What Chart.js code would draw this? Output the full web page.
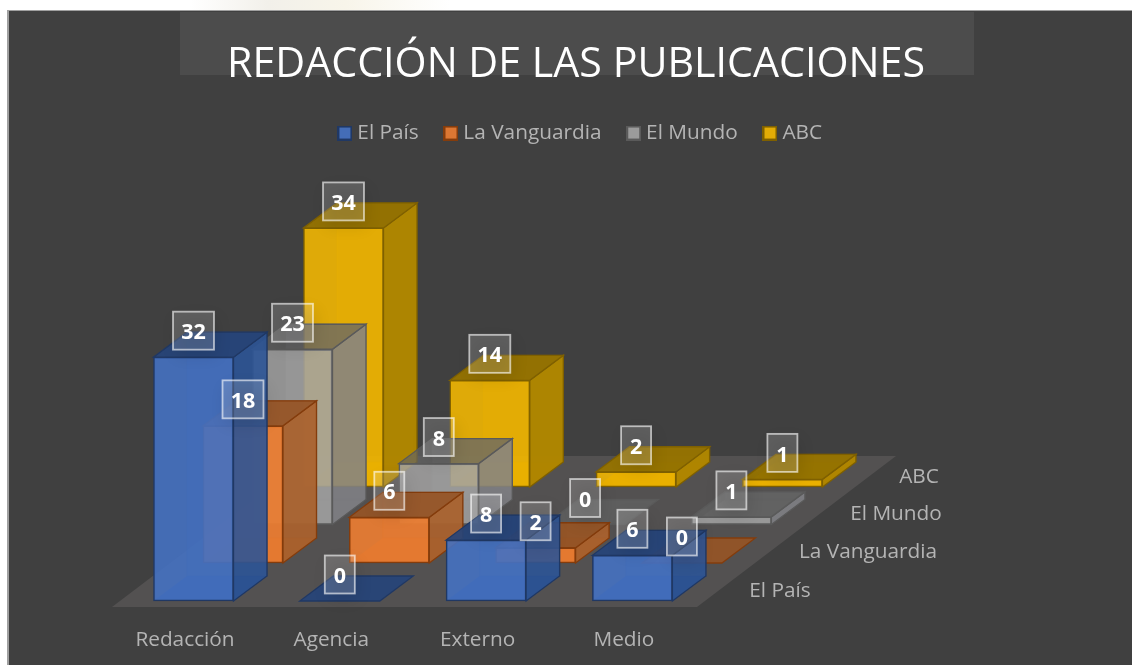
<!DOCTYPE html>
<html><head><meta charset="utf-8">
<style>html,body{margin:0;padding:0;background:#fff}canvas{display:block}</style>
<script src="https://cdn.jsdelivr.net/npm/chart.js@4/dist/chart.umd.min.js"></script>
</head><body><canvas id="c" width="1132" height="665"></canvas>
<script>
const categories = ['Redacción', 'Agencia', 'Externo', 'Medio'];
const seriesNames = ['El País', 'La Vanguardia', 'El Mundo', 'ABC'];
const elPais = [32, 0, 8, 6];
const laVanguardia = [18, 6, 2, 0];
const elMundo = [23, 8, 0, 1];
const abc = [34, 14, 2, 1];
const seriesValues = [elPais, laVanguardia, elMundo, abc];
const titleText = 'REDACCIÓN DE LAS PUBLICACIONES';

// styles
const rgb = [[68,114,196],[237,125,49],[165,165,165],[245,184,0]];
const frontAlpha = [0.88,0.9,0.82,0.88];
const sideCol = ['rgba(45,85,150,.85)','rgba(170,98,45,.9)','rgba(130,130,135,.8)','rgba(176,134,0,.97)'];
const topCol = ['rgba(38,68,122,.92)','rgba(150,85,38,.92)','rgba(100,100,100,.7)','rgba(150,115,0,.95)'];
const edgeCol = ['#203864','#843c0c','#5a5a5a','#7f6000'];
const textCol = '#b4b4b4';
const FONT = '"Open Sans", sans-serif';
const LABEL_SIZE = 20.8;
const LEGEND_SHIFT = 6.5;

// projection of the 3D view (pixels)
const PX_PER_UNIT = 7.62, SPACING = 146.3, BAR_W = 80, DX = 33.5, DY = -25;
const baseY = [601, 563, 524.5, 487];
const firstX = [193.5, 243, 292.5, 343.5];

const swatch = i => {
  const c = document.createElement('canvas'); c.width = c.height = 15;
  const g = c.getContext('2d');
  g.fillStyle = edgeCol[i]; g.fillRect(0,0,15,15);
  g.fillStyle = `rgb(${rgb[i].map(v=>Math.round(v*.9+64*.1)).join(',')})`; g.fillRect(2,2,11,11);
  return c;
};

const scales = {};
seriesNames.forEach((n,k)=>{
  scales['x'+k] = { type:'linear', display:k===0, position:'bottom', offset:false,
    grid:{display:false}, border:{display:false},
    ticks:{ stepSize:1, includeBounds:false, autoSkip:false, maxRotation:0, minRotation:0, labelOffset:-8.5, padding:4,
      color:textCol, font:{family:FONT,size:LABEL_SIZE}, callback:v=>categories[v] ?? '' } };
  scales['y'+k] = { type:'linear', display:false, position:'left', grid:{display:false} };
});

const datasets = seriesNames.map((n,k)=>({
  label:n,
  data: seriesValues[k].map((v,i)=>({x:i,y:v})),
  xAxisID:'x'+k, yAxisID:'y'+k, grouped:false,
  backgroundColor:`rgba(${rgb[k].join(',')},${frontAlpha[k]})`,
  borderColor:edgeCol[k], borderWidth:1.5, borderSkipped:false,
  barThickness:BAR_W, pointStyle:swatch(k)
}));

const poly = (ctx,pts,fill,stroke)=>{
  ctx.beginPath(); pts.forEach((p,i)=>i?ctx.lineTo(p[0],p[1]):ctx.moveTo(p[0],p[1])); ctx.closePath();
  if(fill){ctx.fillStyle=fill;ctx.fill();}
  if(stroke){ctx.strokeStyle=stroke;ctx.lineWidth=1.3;ctx.stroke();}
};

const view3d = {
  id:'view3d',
  afterLayout(chart){ chart.legend.left+=LEGEND_SHIFT; chart.legend.right+=LEGEND_SHIFT; },
  beforeDraw(chart){
    const {ctx,width,height}=chart;
    ctx.save();
    ctx.fillStyle='#fff'; ctx.fillRect(0,0,width,height);
    const smudge=ctx.createLinearGradient(190,0,450,0);
    smudge.addColorStop(0,'#ffffff');smudge.addColorStop(.3,'#f2f0ea');smudge.addColorStop(.6,'#f8f5ea');smudge.addColorStop(1,'#ffffff');
    ctx.fillStyle=smudge; ctx.fillRect(190,0,260,10);
    ctx.fillStyle='#404040'; ctx.fillRect(8,11,width-8,height-11);
    ctx.fillStyle='#a0a0a0'; ctx.fillRect(7,10,width-7,1); ctx.fillRect(7,10,2,height-10);
    ctx.fillStyle='#4c4c4c'; ctx.fillRect(180,12,794,63);
    ctx.restore();
  },
  beforeDatasetsDraw(chart){
    const ctx=chart.ctx; ctx.save();
    poly(ctx,[[112,607],[697,607],[896,456],[311,456]],'#535151');
    ctx.restore();
  },
  beforeDatasetDraw(chart,args){
    const k=args.index, ctx=chart.ctx; ctx.save();
    chart.getDatasetMeta(k).data.forEach(b=>{
      const l=b.x-b.width/2, r=b.x+b.width/2;
      // inner back faces seen through the translucent front
      if(b.base-b.y>1){
        poly(ctx,[[l,b.base],[r,b.base],[r+DX,b.base+DY],[l+DX,b.base+DY]],topCol[k]);
        ctx.globalAlpha=.35;
        poly(ctx,[[l+DX,b.base+DY],[l+DX,b.y+DY],[r+DX,b.y+DY],[r+DX,b.base+DY]],sideCol[k],edgeCol[k]);
        ctx.globalAlpha=1;
      }
    });
    ctx.restore();
  },
  afterDatasetDraw(chart,args){
    const k=args.index, ctx=chart.ctx; ctx.save();
    chart.getDatasetMeta(k).data.forEach(b=>{
      const l=b.x-b.width/2, r=b.x+b.width/2;
      if(b.base-b.y>1) poly(ctx,[[r,b.y],[r+DX,b.y+DY],[r+DX,b.base+DY],[r,b.base]],sideCol[k],edgeCol[k]);
      poly(ctx,[[l,b.y],[r,b.y],[r+DX,b.y+DY],[l+DX,b.y+DY]],topCol[k],edgeCol[k]);
    });
    ctx.restore();
  },
  afterDatasetsDraw(chart){
    const ctx=chart.ctx; ctx.save();
    // depth axis labels
    const depthPos=[[780,591.5],[868,552.5],[896,514.5],[919,477.5]];
    ctx.font=`${LABEL_SIZE}px ${FONT}`; ctx.fillStyle=textCol; ctx.textAlign='center'; ctx.textBaseline='middle';
    seriesNames.forEach((n,k)=>ctx.fillText(n,depthPos[k][0],depthPos[k][1]));
    // data labels
    for(let k=seriesNames.length-1;k>=0;k--){
      chart.getDatasetMeta(k).data.forEach((b,i)=>{
        const txt=String(seriesValues[k][i]);
        const w=txt.length>1?41:30,h=38,cx=b.x,cy=b.y-26.5;
        ctx.save();
        ctx.shadowColor='rgba(0,0,0,.6)';ctx.shadowBlur=16;ctx.shadowOffsetX=3;ctx.shadowOffsetY=6;
        ctx.fillStyle='rgba(255,255,255,.16)';ctx.fillRect(cx-w/2,cy-h/2,w,h);
        ctx.restore();
        ctx.strokeStyle='rgba(255,255,255,.62)';ctx.lineWidth=1.8;ctx.strokeRect(cx-w/2,cy-h/2,w,h);
        ctx.font=`bold 21.5px ${FONT}`;ctx.fillStyle='#fff';ctx.textAlign='center';ctx.textBaseline='middle';
        ctx.fillText(txt,cx,cy+2.5);
      });
    }
    ctx.restore();
  }
};

const chart = new Chart(document.getElementById('c'),{
  type:'bar',
  data:{datasets},
  options:{
    responsive:false, animation:false, parsing:true,
    layout:{padding:{left:20,right:0,top:0,bottom:8}},
    scales,
    plugins:{
      tooltip:{enabled:false},
      title:{display:true,text:titleText,color:'#fff',font:{family:FONT,size:41.2,weight:'normal'},padding:{top:41,bottom:2}},
      legend:{display:true,position:'top',align:'center',
        labels:{usePointStyle:true,pointStyleWidth:4,color:textCol,padding:30.2,font:{family:FONT,size:LABEL_SIZE}}}
    }
  },
  plugins:[view3d]
});

// map every series' scales onto its place in the 3D view (repeat: tick labels affect the plot area)
for(let pass=0;pass<4;pass++){
  const a = chart.chartArea;
  seriesNames.forEach((n,k)=>{
    const sx=chart.options.scales['x'+k], sy=chart.options.scales['y'+k];
    sx.min=(a.left-firstX[k])/SPACING; sx.max=(a.right-firstX[k])/SPACING;
    sy.min=(baseY[k]-a.bottom)/PX_PER_UNIT; sy.max=(baseY[k]-a.top)/PX_PER_UNIT;
  });
  chart.update('none');
}
</script></body></html>
